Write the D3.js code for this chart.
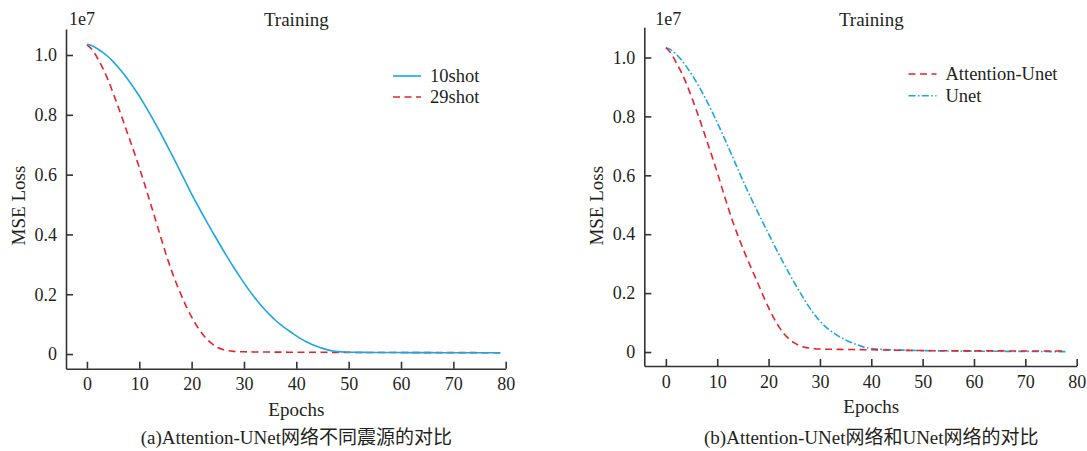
<!DOCTYPE html>
<html>
<head>
<meta charset="utf-8">
<script src="https://cdn.jsdelivr.net/npm/d3@7"></script>
<style>
  body { margin: 0; background: #fff; }
  svg { display: block; }
  text { font-family: "Liberation Serif", "Times New Roman", serif; fill: #231f20; }
  .cjk { font-family: "Liberation Serif", "Noto Sans CJK SC", serif; }
</style>
</head>
<body>
<svg id="chart" width="1087" height="451"></svg>
<script>
// ---- tick labels ----
const xTicks = [0, 10, 20, 30, 40, 50, 60, 70, 80];
const yTicks = [0, 0.2, 0.4, 0.6, 0.8, 1.0];
const yTickLabels = ["0", "0.2", "0.4", "0.6", "0.8", "1.0"];

// ---- panel (a): training loss (x1e7) per epoch, index = epoch ----
const shot10 = [
  1.036, 1.031, 1.021, 1.009, 0.995, 0.978, 0.958, 0.937, 0.914, 0.889,
  0.863, 0.834, 0.804, 0.773, 0.741, 0.708, 0.674, 0.640, 0.605, 0.570,
  0.535, 0.502, 0.470, 0.439, 0.408, 0.378, 0.348, 0.319, 0.291, 0.264,
  0.238, 0.213, 0.190, 0.168, 0.148, 0.130, 0.113, 0.098, 0.085, 0.073,
  0.061, 0.050, 0.040, 0.032, 0.025, 0.019, 0.014, 0.010, 0.008, 0.007,
  0.0060, 0.0058, 0.0056, 0.0055, 0.0054, 0.0053, 0.0052, 0.0051, 0.0050, 0.0050,
  0.0049, 0.0048, 0.0048, 0.0047, 0.0047, 0.0046, 0.0046, 0.0045, 0.0045, 0.0044,
  0.0044, 0.0043, 0.0043, 0.0042, 0.0042, 0.0042, 0.0041, 0.0041, 0.0041, 0.0040
];
const shot29 = [
  1.034, 1.018, 0.990, 0.957, 0.918, 0.873, 0.825, 0.776, 0.726, 0.676,
  0.624, 0.569, 0.512, 0.455, 0.397, 0.340, 0.287, 0.240, 0.198, 0.158,
  0.124, 0.094, 0.069, 0.048, 0.033, 0.022, 0.015, 0.011, 0.009, 0.008,
  0.0075, 0.0072, 0.0070, 0.0068, 0.0067, 0.0066, 0.0065, 0.0064, 0.0063, 0.0062,
  0.0061, 0.0060, 0.0060, 0.0059, 0.0058, 0.0058, 0.0057, 0.0056, 0.0056, 0.0055,
  0.0055, 0.0054, 0.0054, 0.0053, 0.0053, 0.0052, 0.0052, 0.0051, 0.0051, 0.0050,
  0.0050, 0.0050, 0.0049, 0.0049, 0.0049, 0.0048, 0.0048, 0.0048, 0.0047, 0.0047,
  0.0047, 0.0046, 0.0046, 0.0046, 0.0046, 0.0045, 0.0045, 0.0045, 0.0045, 0.0045
];

// ---- panel (b): training loss (x1e7) per epoch, index = epoch ----
const attUnet = [
  1.033, 1.014, 0.983, 0.950, 0.911, 0.866, 0.818, 0.768, 0.716, 0.664,
  0.610, 0.553, 0.497, 0.444, 0.396, 0.352, 0.310, 0.270, 0.230, 0.189,
  0.151, 0.116, 0.086, 0.062, 0.044, 0.031, 0.022, 0.016, 0.013, 0.011,
  0.0100, 0.0095, 0.0092, 0.0090, 0.0088, 0.0086, 0.0084, 0.0082, 0.0080, 0.0078,
  0.0076, 0.0073, 0.0070, 0.0067, 0.0064, 0.0061, 0.0058, 0.0055, 0.0052, 0.0050,
  0.0048, 0.0046, 0.0045, 0.0044, 0.0043, 0.0042, 0.0041, 0.0040, 0.0040, 0.0039,
  0.0039, 0.0038, 0.0038, 0.0038, 0.0037, 0.0037, 0.0037, 0.0036, 0.0036, 0.0036,
  0.0036, 0.0035, 0.0035, 0.0035, 0.0035, 0.0035, 0.0035, 0.0035, 0.0035
];
const unet = [
  1.033, 1.026, 1.011, 0.992, 0.969, 0.943, 0.915, 0.884, 0.851, 0.816,
  0.779, 0.741, 0.702, 0.662, 0.622, 0.582, 0.544, 0.507, 0.471, 0.436,
  0.401, 0.366, 0.332, 0.299, 0.267, 0.236, 0.206, 0.177, 0.150, 0.126,
  0.105, 0.087, 0.073, 0.061, 0.050, 0.041, 0.033, 0.026, 0.020, 0.015,
  0.012, 0.010, 0.009, 0.008, 0.0075, 0.0070, 0.0065, 0.0060, 0.0056, 0.0052,
  0.0048, 0.0045, 0.0042, 0.0040, 0.0038, 0.0036, 0.0034, 0.0032, 0.0031, 0.0030,
  0.0029, 0.0028, 0.0027, 0.0026, 0.0025, 0.0024, 0.0023, 0.0022, 0.0021, 0.0020,
  0.0019, 0.0018, 0.0017, 0.0016, 0.0015, 0.0014, 0.0013, 0.0012, 0.0012
];

const BLUE = "#1aa7e3";
const RED = "#e8232e";
const AXIS = "#333333";

const svg = d3.select("#chart");

const panels = [
  {
    left: 66, right: 505.7, bottom: 368.7, top: 29,
    xDomain: [-4, 80], yDomain: [-0.049, 1.087],
    offsetX: 3,
    caption: "(a)Attention-UNet网络不同震源的对比",
    legendX: 393, legendY: 76, legendRow: 21,
    series: [
      { name: "29shot", values: shot29, color: RED, dash: "7,4.5", legendIdx: 1 },
      { name: "10shot", values: shot10, color: BLUE, dash: null, legendIdx: 0 }
    ]
  },
  {
    left: 644.3, right: 1076.7, bottom: 366, top: 27.3,
    xDomain: [-4.2, 80], yDomain: [-0.0475, 1.1025],
    offsetX: 11,
    caption: "(b)Attention-UNet网络和UNet网络的对比",
    legendX: 908.5, legendY: 74, legendRow: 21.7,
    series: [
      { name: "Unet", values: unet, color: BLUE, dash: "7,2.4,1.6,2.4", legendIdx: 1 },
      { name: "Attention-Unet", values: attUnet, color: RED, dash: "7,4.5", legendIdx: 0 }
    ]
  }
];

panels.forEach(p => {
  const x = d3.scaleLinear().domain(p.xDomain).range([p.left, p.right]);
  const y = d3.scaleLinear().domain(p.yDomain).range([p.bottom, p.top]);
  const g = svg.append("g");

  // curves
  const line = d3.line()
    .x((d, i) => x(i))
    .y(d => y(d))
    .curve(d3.curveMonotoneX);

  p.series.forEach(s => {
    g.append("path")
      .datum(s.values)
      .attr("fill", "none")
      .attr("stroke", s.color)
      .attr("stroke-width", 1.6)
      .attr("stroke-dasharray", s.dash)
      .attr("d", line);
  });

  // x axis, ticks pointing inward
  const xAxis = g.append("g")
    .attr("transform", `translate(0,${p.bottom})`)
    .call(d3.axisBottom(x).tickValues(xTicks).tickSizeInner(-7).tickSizeOuter(0).tickPadding(9));
  // y axis, ticks pointing inward
  const yAxis = g.append("g")
    .attr("transform", `translate(${p.left},0)`)
    .call(d3.axisLeft(y).tickValues(yTicks).tickSizeInner(-7).tickSizeOuter(0).tickPadding(9)
      .tickFormat((d, i) => yTickLabels[i]));

  [xAxis, yAxis].forEach(a => {
    a.select(".domain").attr("stroke", AXIS).attr("stroke-width", 1.6);
    a.selectAll(".tick line").attr("stroke", AXIS).attr("stroke-width", 1.6);
    a.selectAll(".tick text")
      .attr("fill", "#231f20")
      .style("font-family", "'Liberation Serif', serif")
      .style("font-size", "18px");
  });

  const cx = (x(0) + x(80)) / 2;

  // axis titles
  g.append("text")
    .attr("x", cx).attr("y", p.bottom + 47)
    .attr("text-anchor", "middle")
    .style("font-size", "19px")
    .text("Epochs");
  g.append("text")
    .attr("transform", `translate(${p.left - 41},${y(0.5) + 1}) rotate(-90)`)
    .attr("text-anchor", "middle")
    .style("font-size", "19px")
    .text("MSE Loss");

  // title and offset multiplier
  g.append("text")
    .attr("x", cx).attr("y", 26)
    .attr("text-anchor", "middle")
    .style("font-size", "19px")
    .text("Training");
  g.append("text")
    .attr("x", p.left + p.offsetX).attr("y", 25)
    .style("font-size", "18px")
    .text("1e7");

  // legend
  p.series.forEach(s => {
    const ly = p.legendY + s.legendIdx * p.legendRow;
    g.append("line")
      .attr("x1", p.legendX).attr("x2", p.legendX + 28)
      .attr("y1", ly).attr("y2", ly)
      .attr("stroke", s.color)
      .attr("stroke-width", 1.6)
      .attr("stroke-dasharray", s.dash);
    g.append("text")
      .attr("x", p.legendX + 37).attr("y", ly + 6)
      .style("font-size", "18.5px")
      .text(s.name);
  });

  // caption
  g.append("text")
    .attr("class", "cjk")
    .attr("x", cx).attr("y", 444)
    .attr("text-anchor", "middle")
    .style("font-size", "19px")
    .text(p.caption);
});
</script>
</body>
</html>
